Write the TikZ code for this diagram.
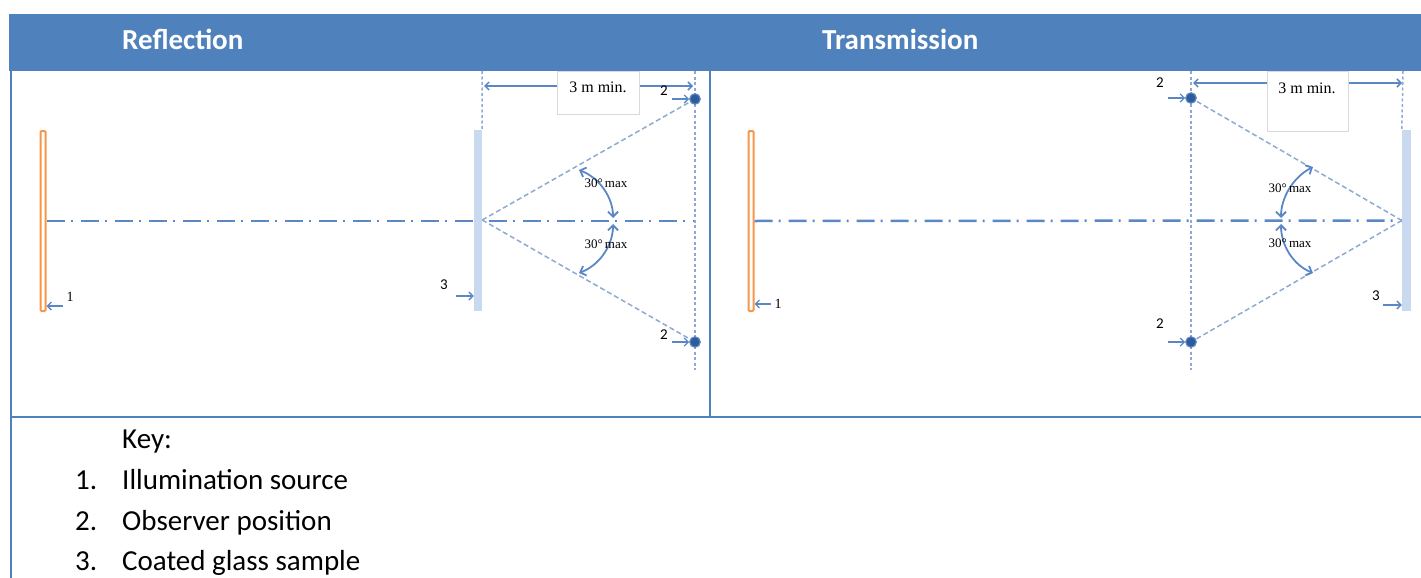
\documentclass[tikz,border=0pt]{standalone}
\usepackage{fontspec}
\setmainfont{Carlito}
\newfontfamily\serifface{Liberation Serif}
\usetikzlibrary{arrows.meta}
\definecolor{hdr}{HTML}{4F81BD}
\definecolor{arr}{HTML}{5B87C5}
\definecolor{dotl}{HTML}{8EA9D3}
\definecolor{samp}{HTML}{C9DAF0}
\definecolor{src}{HTML}{F79646}
\definecolor{obs}{HTML}{2E5C9A}
\definecolor{boxgray}{HTML}{D9D9D9}
\tikzset{
 hdrtext/.style={font=\bfseries\fontsize{29}{31}\selectfont, text=white, anchor=base west, inner sep=0},
 frame/.style={draw=hdr, line width=2.5pt},
 srcbox/.style={draw=src, fill=white, line width=2pt, minimum width=5pt, minimum height=180pt, inner sep=0, rounded corners=1pt},
 sampbox/.style={fill=samp, minimum width=8pt, minimum height=181pt, inner sep=0},
 axisline/.style={draw=arr, line width=2.5pt, dash pattern=on 18pt off 6pt on 2pt off 8pt},
 guide/.style={draw=dotl, line width=1.5pt, dash pattern=on 3pt off 2.5pt},
 ray/.style={draw=dotl, line width=1.5pt, dash pattern=on 5pt off 3pt},
 obsdot/.style={circle, fill=obs, draw=arr, line width=1.2pt, minimum size=10.5pt, inner sep=0},
 ptr/.style={draw=arr, line width=1.3pt, -{Straight Barb[length=4pt,width=8pt]}},
 dim/.style={draw=arr, line width=1.5pt, {Straight Barb[length=4pt,width=8pt]}-{Straight Barb[length=4pt,width=8pt]}},
 angarc/.style={draw=arr, line width=1.8pt, {Straight Barb[length=5pt,width=10pt]}-{Straight Barb[length=5pt,width=10pt]}},
 dimbox/.style={draw=boxgray, fill=white, line width=0.8pt, inner sep=0},
 dimtext/.style={font=\serifface\fontsize{16}{18}\selectfont, inner sep=0},
 angtext/.style={font=\serifface\fontsize{13}{15}\selectfont, inner sep=0},
 numtext/.style={font=\fontsize{15}{17}\selectfont, inner sep=0},
 onetext/.style={font=\serifface\fontsize{14}{16}\selectfont, inner sep=0},
 keytext/.style={font=\fontsize{29}{31}\selectfont, anchor=base west, inner sep=0},
}
\begin{document}
\begin{tikzpicture}[x=1pt,y=-1pt]
\useasboundingbox (0,0) rectangle (1421,578);
% header band
\fill[hdr] (9,14) rectangle (1421,71);
\node[hdrtext] (h1) at (122,50) {Reflection};
\node[hdrtext] (h2) at (822,50) {Transmission};
% frame lines
\coordinate (fL1) at (11,71); \coordinate (fL2) at (11,578);
\coordinate (fM1) at (710,71); \coordinate (fM2) at (710,417);
\coordinate (fH1) at (11,417); \coordinate (fH2) at (1421,417);
\draw[frame] (fL1) -- (fL2);
\draw[frame] (fM1) -- (fM2);
\draw[frame] (fH1) -- (fH2);

% ================= Reflection =================
\node[srcbox] (s1) at (43,221) {};
\coordinate (axL) at (695,221);
\draw[axisline] (s1.east) -- (axL);
\node[sampbox] (p1) at (478,220) {};
% guides
\coordinate (gL1) at (482,71);
\draw[guide] (gL1) -- (p1.north east);
\coordinate (gL2t) at (695,71); \coordinate (gL2b) at (695,370);
\draw[guide] (gL2t) -- (gL2b);
% observers
\node[obsdot] (o1) at (695,99) {};
\node[obsdot] (o2) at (695,342) {};
\draw[ray] (p1.east) -- (o1);
\draw[ray] (p1.east) -- (o2);
% dimension
\coordinate (dL1) at (484,86); \coordinate (dL2) at (693,86);
\draw[dim] (dL1) -- (dL2);
\node[dimbox, minimum width=82pt, minimum height=43pt] (bL) at (598,92.5) {};
\node[dimtext] (tL) at (598,87) {3 m min.};
% angle arcs
\coordinate (aL1) at (579,170); \coordinate (aL2) at (613,218);
\coordinate (aL3) at (613,224); \coordinate (aL4) at (579,273);
\draw[angarc] (aL1) .. controls (600,178) and (613,198) .. (aL2);
\draw[angarc] (aL3) .. controls (613,245) and (600,265) .. (aL4);
\node[angtext] (tA1) at (606,183) {30°\,max};
\node[angtext] (tA2) at (606,244) {30°\,max};
% labels
\node[onetext] (n1L) at (70,297) {1};
\coordinate (n1Ls) at (63,306);
\draw[ptr] (n1Ls) -- (s1.east |- n1Ls);
\node[numtext] (n3L) at (444,285) {3};
\coordinate (n3Ls) at (456,296);
\draw[ptr] (n3Ls) -- (p1.west |- n3Ls);
\node[numtext] (n2La) at (664,91) {2};
\coordinate (n2Las) at (672,99);
\draw[ptr] (n2Las) -- (o1);
\node[numtext] (n2Lb) at (664,335) {2};
\coordinate (n2Lbs) at (672,342);
\draw[ptr] (n2Lbs) -- (o2);

% ================= Transmission =================
\node[srcbox] (s2) at (751,221) {};
\node[sampbox, minimum width=9pt] (p2) at (1406.5,220.5) {};
\draw[axisline] (s2.east) -- (p2.west);
\coordinate (gR1t) at (1191,71); \coordinate (gR1b) at (1191,370);
\draw[guide] (gR1t) -- (gR1b);
\coordinate (gR2) at (1403,71);
\draw[guide] (gR2) -- (p2.north west);
\node[obsdot] (o3) at (1191,98) {};
\node[obsdot] (o4) at (1191,342) {};
\draw[ray] (p2.west) -- (o3);
\draw[ray] (p2.west) -- (o4);
\coordinate (dR1) at (1193,83); \coordinate (dR2) at (1402,83);
\draw[dim] (dR1) -- (dR2);
\node[dimbox, minimum width=81pt, minimum height=60pt] (bR) at (1307.5,101) {};
\node[dimtext] (tR) at (1307,88) {3 m min.};
\coordinate (aR1) at (1281,218); \coordinate (aR2) at (1313,167);
\coordinate (aR3) at (1281,224); \coordinate (aR4) at (1313,273);
\draw[angarc] (aR1) .. controls (1281,198) and (1293,177) .. (aR2);
\draw[angarc] (aR3) .. controls (1281,245) and (1293,265) .. (aR4);
\node[angtext] (tA3) at (1290,188) {30°\,max};
\node[angtext] (tA4) at (1290,243) {30°\,max};
\node[onetext] (n1R) at (778,304) {1};
\coordinate (n1Rs) at (771,304);
\draw[ptr] (n1Rs) -- (s2.east |- n1Rs);
\node[numtext] (n3R) at (1376,296) {3};
\coordinate (n3Rs) at (1383,305);
\draw[ptr] (n3Rs) -- (p2.west |- n3Rs);
\node[numtext] (n2Ra) at (1160,83) {2};
\coordinate (n2Ras) at (1168,98);
\draw[ptr] (n2Ras) -- (o3);
\node[numtext] (n2Rb) at (1160,324) {2};
\coordinate (n2Rbs) at (1168,342);
\draw[ptr] (n2Rbs) -- (o4);

% ================= Key =================
\node[keytext] (k0) at (122,448) {Key:};
\node[keytext] (k1n) at (75,489) {1.};
\node[keytext] (k1) at (122,489) {Illumination source};
\node[keytext] (k2n) at (75,530) {2.};
\node[keytext] (k2) at (122,530) {Observer position};
\node[keytext] (k3n) at (75,570) {3.};
\node[keytext] (k3) at (122,570) {Coated glass sample};
\end{tikzpicture}
\end{document}
